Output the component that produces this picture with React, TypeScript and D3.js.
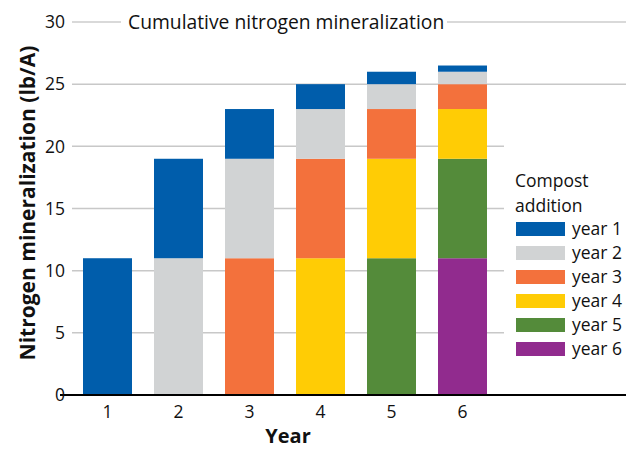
import { useRef, useEffect } from 'react';
import * as d3 from 'd3';

// year of the cumulative total (x axis)
const years = ['1', '2', '3', '4', '5', '6'];

// contribution of each compost addition to the total, per year (lb/A)
const year1 = [11, 8, 4, 2, 1, 0.5];
const year2 = [0, 11, 8, 4, 2, 1];
const year3 = [0, 0, 11, 8, 4, 2];
const year4 = [0, 0, 0, 11, 8, 4];
const year5 = [0, 0, 0, 0, 11, 8];
const year6 = [0, 0, 0, 0, 0, 11];

const seriesNames = ['year 1', 'year 2', 'year 3', 'year 4', 'year 5', 'year 6'];
const seriesValues = [year1, year2, year3, year4, year5, year6];
const seriesColors = ['#005dab', '#d1d3d4', '#f3713c', '#ffcc05', '#548b3a', '#912b8e'];

const yTicks = [0, 5, 10, 15, 20, 25, 30];

const W = 626;
const H = 451;
const FONT = "'Open Sans', 'Noto Sans', sans-serif";

export default function App() {
    const svgRef = useRef<SVGSVGElement | null>(null);

    useEffect(() => {
        document.body.style.margin = '0';
        if (!svgRef.current) return;
        const svg = d3.select(svgRef.current);
        svg.selectAll('*').remove();

        const x = d3.scaleBand<string>()
            .domain(years)
            .range([72, 498])
            .paddingInner(0.31)
            .paddingOuter(0.155);

        const y = d3.scaleLinear().domain([0, 30]).range([395, 22]);

        // gridlines
        const grid = svg.append('g');
        yTicks.filter(t => t > 0).forEach(t => {
            if (t === 30) {
                grid.append('line').attr('x1', 72).attr('x2', 121)
                    .attr('y1', y(t)).attr('y2', y(t))
                    .attr('stroke', '#b3b3b3').attr('stroke-width', 1);
                grid.append('line').attr('x1', 447).attr('x2', W)
                    .attr('y1', y(t)).attr('y2', y(t))
                    .attr('stroke', '#b3b3b3').attr('stroke-width', 1);
            } else {
                grid.append('line').attr('x1', 72).attr('x2', t === 25 ? W : 504)
                    .attr('y1', y(t)).attr('y2', y(t))
                    .attr('stroke', '#c8c8c8').attr('stroke-width', 1.5);
            }
        });

        // stacked bars, newest addition at the bottom
        const rows = years.map((yr, i) => {
            const row: Record<string, number | string> = { year: yr };
            seriesNames.forEach((n, s) => { row[n] = seriesValues[s][i]; });
            return row;
        });
        const stack = d3.stack<Record<string, number | string>>()
            .keys([...seriesNames].reverse())
            .value((d, k) => d[k] as number);
        const color = d3.scaleOrdinal<string, string>().domain(seriesNames).range(seriesColors);

        svg.append('g').selectAll('g')
            .data(stack(rows))
            .join('g')
            .attr('fill', d => color(d.key))
            .selectAll('rect')
            .data(d => d.filter(p => p[1] - p[0] > 0))
            .join('rect')
            .attr('x', d => x(d.data.year as string)!)
            .attr('width', x.bandwidth())
            .attr('y', d => y(d[1]))
            .attr('height', d => y(d[0]) - y(d[1]));

        // x axis line
        svg.append('line')
            .attr('x1', 60).attr('x2', W)
            .attr('y1', y(0)).attr('y2', y(0))
            .attr('stroke', '#000').attr('stroke-width', 2);

        // y tick labels
        svg.append('g').selectAll('text')
            .data(yTicks)
            .join('text')
            .attr('x', 65)
            .attr('y', d => y(d))
            .attr('dy', '0.36em')
            .attr('text-anchor', 'end')
            .attr('font-family', FONT)
            .attr('font-size', 17.5)
            .attr('fill', '#111')
            .text(d => d);

        // x tick labels
        svg.append('g').selectAll('text')
            .data(years)
            .join('text')
            .attr('x', d => x(d)! + x.bandwidth() / 2)
            .attr('y', 418)
            .attr('text-anchor', 'middle')
            .attr('font-family', FONT)
            .attr('font-size', 17.5)
            .attr('fill', '#111')
            .text(d => d);

        // axis titles
        svg.append('text')
            .attr('x', 288).attr('y', 443)
            .attr('text-anchor', 'middle')
            .attr('font-family', FONT)
            .attr('font-weight', 'bold')
            .attr('font-size', 20)
            .attr('fill', '#111')
            .text('Year');

        svg.append('text')
            .attr('transform', 'translate(35,203) rotate(-90)')
            .attr('text-anchor', 'middle')
            .attr('font-family', FONT)
            .attr('font-weight', 'bold')
            .attr('font-size', 21)
            .attr('fill', '#111')
            .text('Nitrogen mineralization (lb/A)');

        // chart title
        svg.append('text')
            .attr('x', 128).attr('y', y(30))
            .attr('dy', '0.36em')
            .attr('font-family', FONT)
            .attr('font-size', 19.3)
            .attr('fill', '#111')
            .text('Cumulative nitrogen mineralization');

        // legend
        const legend = svg.append('g').attr('transform', 'translate(515,0)');
        ['Compost', 'addition'].forEach((t, i) => {
            legend.append('text')
                .attr('x', 0).attr('y', 187 + i * 25)
                .attr('font-family', FONT)
                .attr('font-size', 17.5)
                .attr('fill', '#111')
                .text(t);
        });
        seriesNames.forEach((n, i) => {
            const cy = 229 + i * 24;
            legend.append('rect')
                .attr('x', 1).attr('y', cy - 7)
                .attr('width', 49).attr('height', 14)
                .attr('fill', color(n));
            legend.append('text')
                .attr('x', 57).attr('y', cy)
                .attr('dy', '0.36em')
                .attr('font-family', FONT)
                .attr('font-size', 17.5)
                .attr('fill', '#111')
                .text(n);
        });
    }, []);

    return (
        <svg ref={svgRef} width={W} height={H} style={{ display: 'block', background: '#fff' }} />
    );
}
